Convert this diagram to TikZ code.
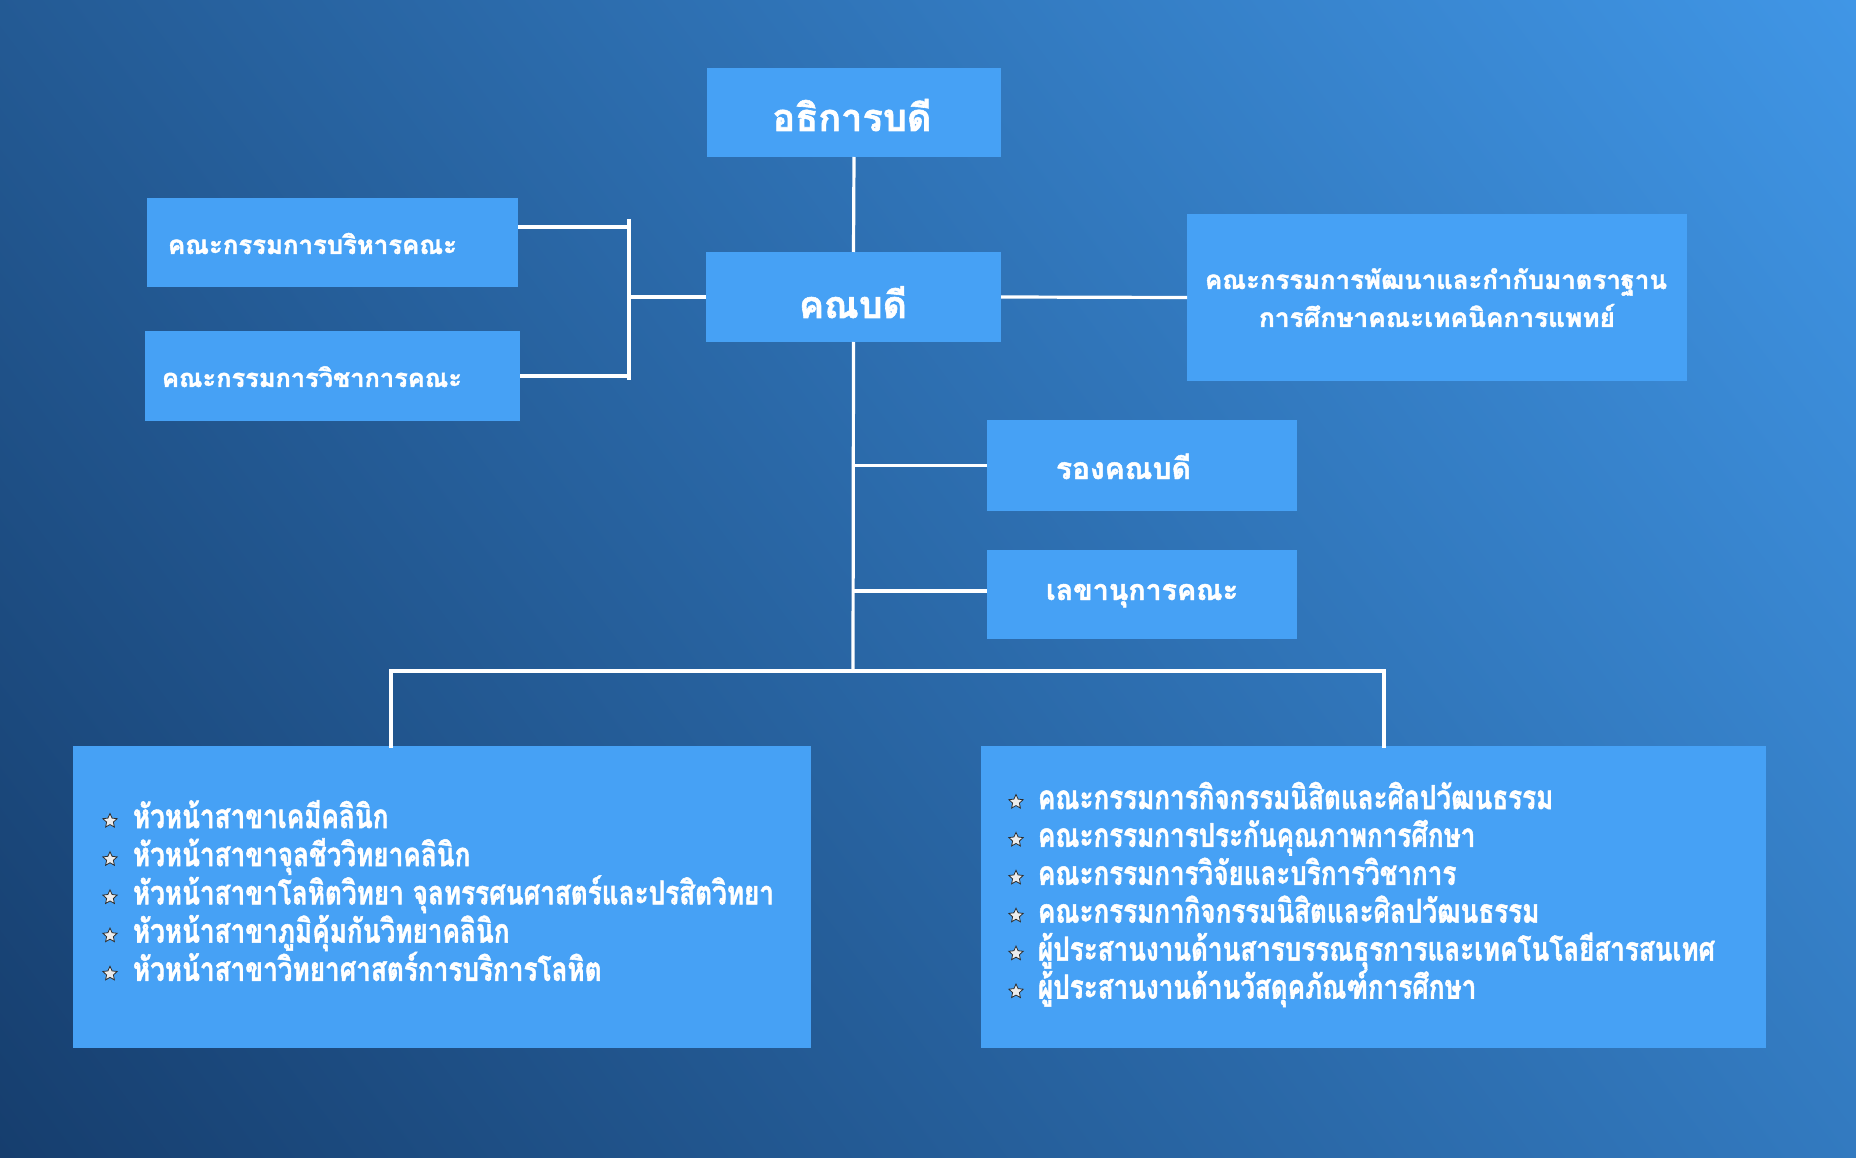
\documentclass[tikz,border=0pt]{standalone}
\usepackage{fontspec}
\usetikzlibrary{shapes.geometric}
\newfontfamily\thai[Script=Thai,BoldFeatures={FakeBold=1.6}]{Loma}
\definecolor{boxblue}{RGB}{70,161,245}
\definecolor{bgdark}{RGB}{22,62,110}
\definecolor{bglight}{RGB}{64,150,230}
\newlength\widL
\newlength\widR
\newcommand\bfnt{\thai\bfseries\fontsize{33pt}{36pt}\selectfont}
\AtBeginDocument{%
  \settowidth\widL{\bfnt หัวหน้าสาขาโลหิตวิทยา จุลทรรศนศาสตร์และปรสิตวิทยา}%
  \settowidth\widR{\bfnt ผู้ประสานงานด้านสารบรรณธุรการและเทคโนโลยีสารสนเทศ}%
  \pgfmathsetmacro\tmpa{641/\widL}\global\let\sxl\tmpa
  \pgfmathsetmacro\tmpb{677/\widR}\global\let\sxr\tmpb
}
\tikzset{
  box/.style={fill=boxblue, draw=none, inner sep=0pt, outer sep=0pt},
  ttl/.style={inner sep=0pt, outer sep=0pt, text=white, font=\thai\bfseries\fontsize{40pt}{44pt}\selectfont},
  bul/.style={inner sep=0pt, outer sep=0pt, text=white, anchor=base west},
  starb/.style={star, star points=5, star point ratio=2.1, fill=white!85!gray, draw=gray!35!black, line width=0.8pt, minimum size=15pt, inner sep=0pt},
  conn/.style={draw=white, line width=3.2pt}
}
\begin{document}
\begin{tikzpicture}[x=1pt,y=-1pt]
\useasboundingbox (0,0) rectangle (1856,1158);
\begin{scope}
\clip (0,0) rectangle (1856,1158);
\shade[top color=bglight, bottom color=bgdark, shading angle=-53] (-162,-511) rectangle (2018,1669);
\end{scope}
% boxes
\node[box, minimum width=294pt, minimum height=89pt] (top) at (854,112.5) {};
\node[box, minimum width=295pt, minimum height=90pt] (dean) at (853.5,297) {};
\node[box, minimum width=371pt, minimum height=89pt] (lb1) at (332.5,242.5) {};
\node[box, minimum width=375pt, minimum height=90pt] (lb2) at (332.5,376) {};
\node[box, minimum width=500pt, minimum height=167pt] (rb) at (1437,297.5) {};
\node[box, minimum width=310pt, minimum height=91pt] (vp) at (1142,465.5) {};
\node[box, minimum width=310pt, minimum height=89pt] (sec) at (1142,594.5) {};
\node[box, minimum width=738pt, minimum height=302pt] (bl) at (442,897) {};
\node[box, minimum width=785pt, minimum height=302pt] (br) at (1373.5,897) {};
% titles
\node[ttl, anchor=base] (ttop) at (852,131) {\resizebox{159pt}{!}{อธิการบดี}};
\node[ttl, anchor=base] (tdean) at (853,318) {\resizebox{108pt}{!}{คณบดี}};
\node[ttl, anchor=base west] (tlb1) at (168,254) {\resizebox{289pt}{!}{คณะกรรมการบริหารคณะ}};
\node[ttl, anchor=base west] (tlb2) at (162,387) {\resizebox{300pt}{!}{คณะกรรมการวิชาการคณะ}};
\node[ttl, anchor=base] (trb1) at (1436,289) {\resizebox{462pt}{!}{คณะกรรมการพัฒนาและกำกับมาตราฐาน}};
\node[ttl, anchor=base] (trb2) at (1437,327) {\resizebox{356pt}{!}{การศึกษาคณะเทคนิคการแพทย์}};
\node[ttl, anchor=base west] (tvp) at (1056,479) {\resizebox{135pt}{!}{รองคณบดี}};
\node[ttl, anchor=base west] (tsec) at (1046,600) {\resizebox{192pt}{!}{เลขานุการคณะ}};
% left list
\foreach \txt [count=\i] in {หัวหน้าสาขาเคมีคลินิก, หัวหน้าสาขาจุลชีววิทยาคลินิก, หัวหน้าสาขาโลหิตวิทยา จุลทรรศนศาสตร์และปรสิตวิทยา, หัวหน้าสาขาภูมิคุ้มกันวิทยาคลินิก, หัวหน้าสาขาวิทยาศาสตร์การบริการโลหิต}{
  \node[bul] (l\i) at (133,{828+38.2*(\i-1)}) {\scalebox{\sxl}[1]{\bfnt \txt}};
  \node[starb] (ls\i) at (110,{821+38.2*(\i-1)}) {};
}
% right list
\foreach \txt [count=\i] in {คณะกรรมการกิจกรรมนิสิตและศิลปวัฒนธรรม, คณะกรรมการประกันคุณภาพการศึกษา, คณะกรรมการวิจัยและบริการวิชาการ, คณะกรรมกากิจกรรมนิสิตและศิลปวัฒนธรรม, ผู้ประสานงานด้านสารบรรณธุรการและเทคโนโลยีสารสนเทศ, ผู้ประสานงานด้านวัสดุคภัณฑ์การศึกษา}{
  \node[bul] (r\i) at (1038,{809+37.9*(\i-1)}) {\scalebox{\sxr}[1]{\bfnt \txt}};
  \node[starb] (rs\i) at (1016,{802+37.9*(\i-1)}) {};
}
% connectors
\coordinate (bt) at (629,219);
\coordinate (bb) at (629,380);
\coordinate (trunk) at (853,671);
\coordinate (dl) at (391,671);
\coordinate (dr) at (1384,671);
\draw[conn] (top.south) -- (dean.north);
\draw[conn] (bt) -- (bb);
\draw[conn] (lb1.east |- 0,227) -- (bt |- 0,227);
\draw[conn] (lb2.east) -- (lb2.east -| bt);
\draw[conn] (dean.west) -- (dean.west -| bt);
\draw[conn] (dean.east) -- (rb.west);
\draw[conn] (dean.south) -- (trunk);
\draw[conn] (trunk |- vp.west) -- (vp.west);
\draw[conn] (trunk |- 0,591) -- (sec.west |- 0,591);
\draw[conn, line cap=rect] (bl.north -| dl) -- (dl) -- (dr) -- (br.north -| dr);
\end{tikzpicture}
\end{document}
